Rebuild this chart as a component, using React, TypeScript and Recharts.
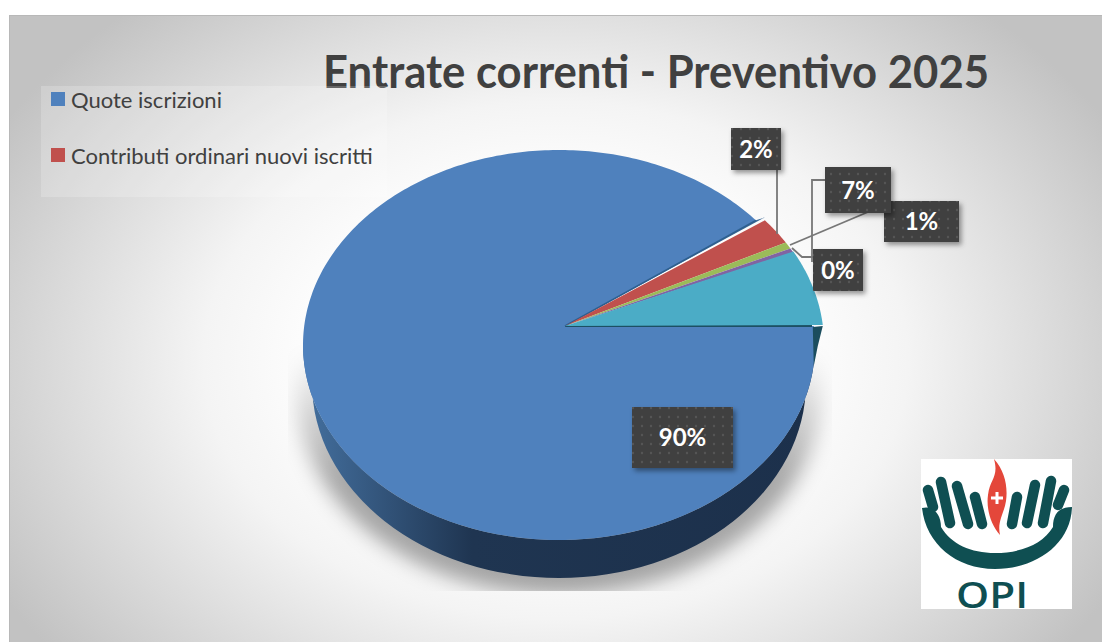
import React from 'react';
import { PieChart, Pie, Cell, Legend } from 'recharts';

const categories = ['Quote iscrizioni', 'Contributi ordinari nuovi iscritti', 'Altre entrate A', 'Altre entrate B', 'Altre entrate C'];
const values = [90, 2.4, 0.6, 0.4, 6.6];
const colors = ['#4f81bd', '#c0504d', '#9bbb59', '#8064a2', '#4bacc6'];
const legendCount = 2;
const titleText = 'Entrate correnti - Preventivo 2025';
const logoText = 'OPI';

const data = categories.map((name, i) => ({ name, value: values[i] }));

// Perspective of the 3D pie
const RX = 256, RY = 195, APEX_X = 6, APEX_Y = -19, DEPTH = 38;
const explodeX = [0, 9, 9, 9, 9];
const explodeY = [0, 0, 0, 0, -1];

const labelLayout = [
  { x: 632, y: 407, w: 101, h: 61, line: [] as number[][] },
  { x: 731, y: 128, w: 50, h: 42, line: [[777, 170], [777, 234]] },
  { x: 884, y: 201, w: 75, h: 41, line: [[868, 212], [790, 245]] },
  { x: 813, y: 249, w: 50, h: 42, line: [[813, 257], [802, 257], [792, 248]] },
  { x: 825, y: 167, w: 66, h: 46, line: [[825, 180], [812, 180], [812, 262]] },
];

function rim(cx: number, cy: number, deg: number) {
  const t = (deg * Math.PI) / 180;
  const dx = Math.cos(t), dy = -Math.sin(t);
  const ax = APEX_X / RX, ay = APEX_Y / RY;
  const b = ax * dx + ay * dy;
  const k = -b + Math.sqrt(b * b - (ax * ax + ay * ay - 1));
  return { x: cx + RX * (ax + k * dx), y: cy + RY * (ay + k * dy) };
}

function SliceShape(props: any) {
  const { cx, cy, startAngle, endAngle, fill, index } = props;
  const i = index ?? categories.findIndex((c) => c === props.name);
  const ex = explodeX[i] ?? 0, ey = explodeY[i] ?? 0;
  const n = Math.max(8, Math.ceil(Math.abs(endAngle - startAngle)));
  let d = `M${cx + APEX_X},${cy + APEX_Y}`;
  for (let s = 0; s <= n; s++) {
    const a = startAngle + ((endAngle - startAngle) * s) / n;
    const p = rim(cx, cy, a);
    d += `L${p.x + ex},${p.y + ey}`;
  }
  d += 'Z';
  if (i === 0) {
    const rxB = RX - 9;
    const side = `M${cx - RX},${cy} A${RX},${RY} 0 0 0 ${cx + RX},${cy} L${cx + rxB},${cy + DEPTH} A${rxB},${RY} 0 0 1 ${cx - rxB},${cy + DEPTH} Z`;
    const e = rim(cx, cy, endAngle);
    return (
      <g>
        <g clipPath="url(#shadowClip)">
          <ellipse cx={cx} cy={cy + 48} rx={RX + 6} ry={RY + 7} fill="url(#shadowGrad)" filter="url(#blur10)" />
        </g>
        <path d={side} fill="url(#sideGrad)" />
        <path d={`M${cx + APEX_X},${cy + APEX_Y}L${e.x},${e.y}L${e.x + 9},${e.y - 3}Z`} fill="#3a6794" />
        <path d={d} fill={fill} />
        <path d={`M${cx + APEX_X},${cy + APEX_Y}L${cx + RX - 3},${cy + APEX_Y}`} stroke="#1d5063" strokeWidth={2} />
        <path d={`M${cx + APEX_X},${cy + APEX_Y}L${e.x},${e.y}`} stroke="#2d5f8f" strokeWidth={1.5} />
      </g>
    );
  }
  if (i === 4) {
    const p0 = rim(cx, cy, endAngle);
    const rimFace = `M${p0.x - 1},${p0.y + 1}L${p0.x + ex},${p0.y + ey + 1}L${p0.x + 4},${p0.y + 20}L${p0.x},${p0.y + 40}Z`;
    return (
      <g>
        <path d={rimFace} fill="#1b4d5e" />
        <path d={d} fill={fill} />
      </g>
    );
  }
  return <path d={d} fill={fill} />;
}

function SliceLabel(props: any) {
  const { index, percent } = props;
  const b = labelLayout[index];
  const pts = b.line.map((p) => p.join(',')).join(' ');
  return (
    <g>
      {b.line.length > 0 && <polyline points={pts} fill="none" stroke="#777777" strokeWidth={1.8} />}
      <rect x={b.x} y={b.y} width={b.w} height={b.h} fill="#404040" filter="url(#boxShadow)" />
      <rect x={b.x} y={b.y} width={b.w} height={b.h} fill="url(#dots)" />
      <text x={b.x + b.w / 2} y={b.y + b.h / 2 + 8.5} textAnchor="middle" fill="#ffffff" fontFamily="Lato, sans-serif" fontWeight={700} fontSize={24}>
        {`${Math.round(percent * 100)}%`}
      </text>
    </g>
  );
}

function LegendBox({ payload }: any) {
  const items = (payload || []).slice(0, legendCount);
  return (
    <div style={{ width: 346, height: 111, background: 'rgba(255,255,255,0.2)', position: 'relative', fontFamily: 'Lato, sans-serif', fontSize: 22, color: '#404040' }}>
      {items.map((it: any, i: number) => (
        <div key={it.value} style={{ position: 'absolute', left: 10, top: 0 + i * 56, height: 26, display: 'flex', alignItems: 'center', whiteSpace: 'nowrap' }}>
          <span style={{ width: 14, height: 14, background: colors[i], marginRight: 6, display: 'inline-block' }} />
          {it.value}
        </div>
      ))}
    </div>
  );
}

function Logo() {
  const c = '#0f4f52';
  const fingers = [
    [7, 31, 12, 48], [20, 23, 29, 64], [36, 27, 47, 65], [54, 38, 61, 65],
    [96, 38, 91, 65], [114, 26, 106, 64], [130, 22, 122, 64], [143, 31, 137, 46],
  ];
  return (
    <svg width={151} height={150} style={{ position: 'absolute', left: 921, top: 459, background: '#fff', overflow: 'visible' }}>
      {fingers.map((f, i) => (
        <line key={i} x1={f[0]} y1={f[1]} x2={f[2]} y2={f[3]} stroke={c} strokeWidth={10.5} strokeLinecap="round" />
      ))}
      <path d="M1,49 C12,46 20,55 20,68 C30,85 50,94 74,94 C100,94 122,85 132,68 C132,55 138,48 151,48 C150,85 115,110 74,110 C35,110 5,85 1,49Z" fill={c} />
      <path d="M73,0 C84,12 87,28 85,42 C83,55 76,62 79,76 C70,66 65,50 67,36 C69,20 78,18 73,0Z" fill="#e4473a" />
      <path d="M70,37.5h4.5v-4.5h3v4.5h4.5v3h-4.5v4.5h-3v-4.5h-4.5z" fill="#fff" />
      <text x={71} y={149} textAnchor="middle" fontFamily="'Open Sans', sans-serif" fontWeight={600} fontSize={36} fill={c} textLength={72} lengthAdjust="spacingAndGlyphs">{logoText}</text>
    </svg>
  );
}

export default function App() {
  return (
    <div style={{ position: 'absolute', left: 0, top: 0, width: 1102, height: 642, overflow: 'hidden', background: '#fff' }}>
      <div style={{ position: 'absolute', left: 9, top: 15, right: 0, bottom: 0, borderTop: '1px solid #b8b8b8', borderLeft: '1px solid #b8b8b8', background: 'radial-gradient(ellipse 640px 470px at 50% 55%, #ffffff 35%, #f4f4f4 55%, #c2c2c2 100%)' }} />
      <div style={{ position: 'absolute', left: 0, top: 0 }}>
        <PieChart width={1102} height={642} margin={{ top: 0, right: 0, bottom: 0, left: 0 }}>
          <defs>
            <filter id="blur10" x="-20%" y="-20%" width="140%" height="140%"><feGaussianBlur stdDeviation="10" /></filter>
            <filter id="boxShadow" x="-20%" y="-20%" width="150%" height="150%"><feDropShadow dx="2.5" dy="3" stdDeviation="2.5" floodColor="#000" floodOpacity="0.4" /></filter>
            <clipPath id="shadowClip"><rect x={288} y={345} width={544} height={246} /></clipPath>
            <linearGradient id="shadowGrad" gradientUnits="userSpaceOnUse" x1={0} y1={350} x2={0} y2={480}>
              <stop offset="0" stopColor="#000" stopOpacity={0} />
              <stop offset="1" stopColor="#000" stopOpacity={0.34} />
            </linearGradient>
            <linearGradient id="sideGrad" gradientUnits="userSpaceOnUse" x1={303} y1={0} x2={815} y2={0}>
              <stop offset="0" stopColor="#44709f" />
              <stop offset="0.33" stopColor="#1f3551" />
              <stop offset="1" stopColor="#1c304b" />
            </linearGradient>
            <pattern id="dots" width="9" height="9" patternUnits="userSpaceOnUse">
              <circle cx="3" cy="3" r="1.2" fill="#555555" />
            </pattern>
          </defs>
          <text x={323} y={88} fontFamily="Lato, sans-serif" fontWeight={700} fontSize={45} fill="#404040" textLength={666} lengthAdjust="spacingAndGlyphs">{titleText}</text>
          <Pie
            data={data}
            dataKey="value"
            nameKey="name"
            cx={559}
            cy={345}
            outerRadius={RX}
            startAngle={0}
            endAngle={-360}
            isAnimationActive={false}
            stroke="none"
            shape={SliceShape}
            label={SliceLabel}
            labelLine={false}
          >
            {data.map((d, i) => <Cell key={d.name} fill={colors[i]} />)}
          </Pie>
          <Legend content={LegendBox as any} itemSorter={null} layout="vertical" align="center" verticalAlign="middle" wrapperStyle={{ left: 41, top: 86, width: 346 }} />
        </PieChart>
      </div>
      <Logo />
    </div>
  );
}
